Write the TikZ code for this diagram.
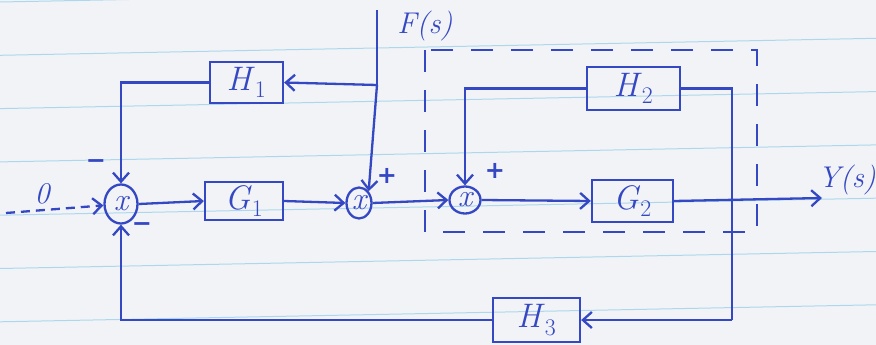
\documentclass[tikz,border=0pt]{standalone}
\usepackage{fontspec}
\newfontfamily\signfont{DejaVu Sans}
\usetikzlibrary{arrows.meta,shapes.geometric}
\definecolor{ink}{RGB}{52,72,196}
\definecolor{paper}{RGB}{242,243,246}
\definecolor{ruling}{RGB}{172,216,238}
\newcommand{\blab}[2]{\textit{#1}\textsubscript{#2}}
\begin{document}
\begin{tikzpicture}[x=1pt,y=-1pt,
  pen/.style={draw=ink,line width=2.3pt},
  blk/.style={pen,rectangle,inner sep=0pt,text=ink,font=\fontsize{34}{36}\selectfont},
  sumpt/.style={pen,ellipse,inner sep=0pt,text=ink,font=\fontsize{32}{34}\selectfont\itshape},
  conn/.style={pen,-{Straight Barb[length=9pt,width=16pt,line width=2.3pt]}},
  lbl/.style={text=ink,font=\fontsize{30}{32}\selectfont\itshape},
  sgn/.style={text=ink,font=\signfont\bfseries\fontsize{24}{26}\selectfont}]
% paper with ruled lines
\fill[paper] (0,0) rectangle (876,345);
\useasboundingbox (0,0) rectangle (876,345);
\begin{scope}
\clip (0,0) rectangle (876,345);
\foreach \k in {0,...,6}
  \draw[ruling,line width=1pt] (0,{2+53.3*\k}) -- (876,{2+53.3*\k-17});
\end{scope}

% blocks
\node[blk,minimum width=73pt,minimum height=41pt] (H1) at (246.5,82.5) {\blab{H}{1}};
\node[blk,minimum width=78pt,minimum height=38pt] (G1) at (244,201) {\blab{G}{1}};
\node[blk,minimum width=93pt,minimum height=43pt] (H2) at (633.5,88.5) {\blab{H}{2}};
\node[blk,minimum width=81pt,minimum height=42pt] (G2) at (632.5,201) {\blab{G}{2}};
\node[blk,minimum width=87pt,minimum height=44pt] (H3) at (536.5,320) {\blab{H}{3}};

% summing junctions
\node[sumpt,minimum width=33pt,minimum height=39pt] (S1) at (121,204) {x};
\node[sumpt,minimum width=25pt,minimum height=31pt] (S2) at (359,203) {x};
\node[sumpt,minimum width=31pt,minimum height=27pt] (S3) at (465,200) {x};

% free ends
\coordinate (in) at (6,213);
\coordinate (Ftop) at (377,10);
\coordinate (Fj) at (377,85);
\coordinate (Rt) at (732,88.5);
\coordinate (Rb) at (732,320);
\coordinate (Yend) at (822,198);

% inner loop frame
\draw[pen,dash pattern=on 22pt off 18pt] (425,50) rectangle (757,232);

% input
\draw[conn,dash pattern=on 9pt off 6pt] (in) -- (S1);
\node[lbl] (zero) at (42,194) {0};

% forward path
\draw[conn] (S1.east) -- (G1.west);
\draw[conn] (G1.east) -- (S2.west);
\draw[conn] (S2.east) -- (S3.west);
\draw[conn] (S3.east) -- (G2.west);
\draw[conn] (G2.east) -- (Yend);
\node[lbl] (Y) at (847,180) {Y(s)};

% disturbance and first local loop
\draw[pen] (Ftop) -- (Fj);
\draw[conn] (Fj) -- (S2.north east);
\draw[conn] (Fj) -- (H1.east);
\draw[conn] (H1.west) -| (S1.north);
\node[lbl] (F) at (425,26) {F(s)};

% second local loop and outer feedback
\draw[conn] (H2.west) -| (S3.north);
\draw[pen] (H2.east) -- (Rt) -- (Rb);
\draw[conn] (Rb) -- (H3.east);
\draw[conn] (H3.west) -| (S1.south);

% signs
\node[sgn] (m1) at (96,164) {−};
\node[sgn] (m2) at (142,227) {−};
\node[sgn] (p1) at (387,176) {+};
\node[sgn] (p2) at (495,171) {+};
\end{tikzpicture}
\end{document}
